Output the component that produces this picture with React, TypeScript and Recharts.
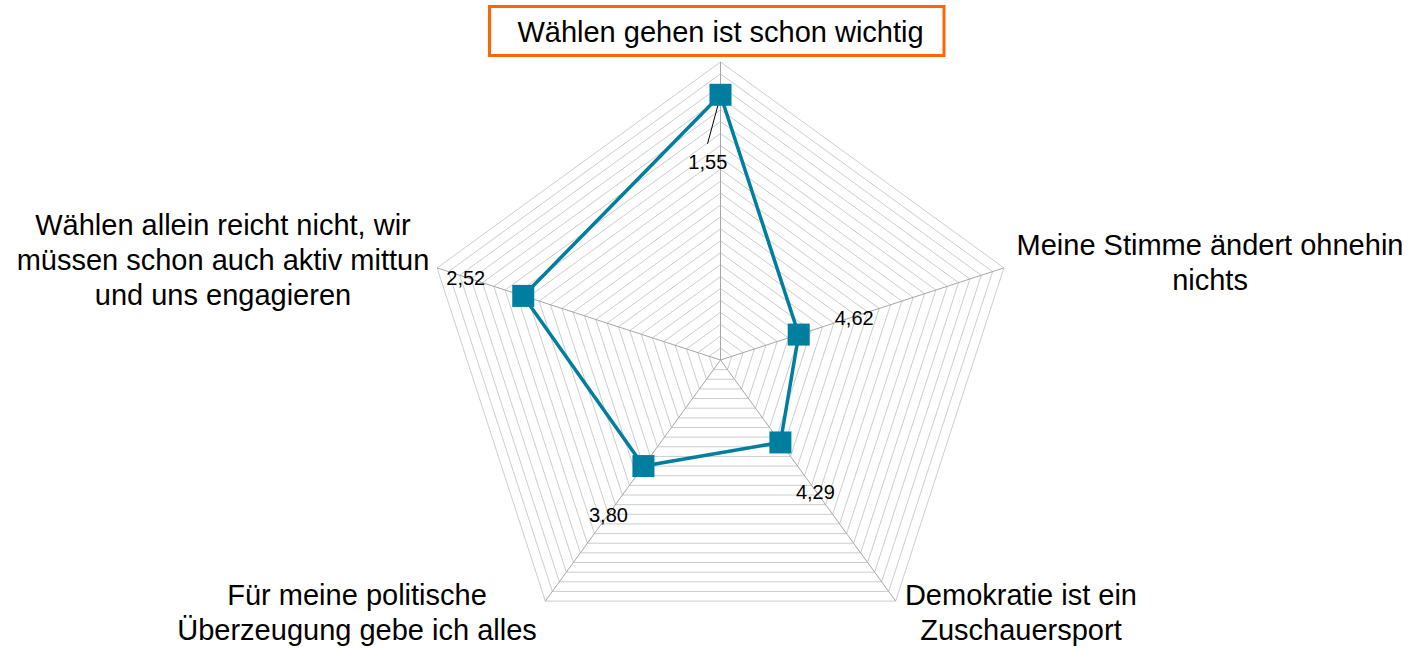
import React from 'react';
import { RadarChart, Radar, PolarGrid, PolarAngleAxis, PolarRadiusAxis } from 'recharts';

// ---- data ----
const categoryLines: string[][] = [
  ['Wählen gehen ist schon wichtig'],
  ['Meine Stimme ändert ohnehin', 'nichts'],
  ['Demokratie ist ein', 'Zuschauersport'],
  ['Für meine politische', 'Überzeugung gebe ich alles'],
  ['Wählen allein reicht nicht, wir', 'müssen schon auch aktiv mittun', 'und uns engagieren'],
];
const categories: string[] = categoryLines.map((l) => l.join(' '));
const values: number[] = [1.55, 4.62, 4.29, 3.8, 2.52];
const radiusTicks: number[] = [
  1, 1.2, 1.4, 1.6, 1.8, 2, 2.2, 2.4, 2.6, 2.8, 3, 3.2, 3.4, 3.6, 3.8, 4, 4.2, 4.4, 4.6, 4.8, 5,
  5.2, 5.4, 5.6, 5.8, 6,
];

const data = categories.map((name, i) => ({ name, value: values[i] }));

// ---- styles ----
const FONT = '"Liberation Sans", Arial, Helvetica, sans-serif';
const SERIES_COLOR = '#007EA0';
const axisLabelOffsets = [
  { dx: 0, dy: -12 },
  { dx: 198.5, dy: -10.4 },
  { dx: 120.6, dy: -2.6 },
  { dx: -183.6, dy: -2.6 },
  { dx: -206.5, dy: -30.4 },
];
const dataLabelOffsets = [
  { dx: -12.7, dy: 74 },
  { dx: 55.5, dy: -9.3 },
  { dx: 35, dy: 56.3 },
  { dx: -35, dy: 56.3 },
  { dx: -57.5, dy: -11 },
];

const fmt = (v: number) => v.toFixed(2).replace('.', ',');

const AngleTick = (props: any) => {
  const { x, y, payload } = props;
  const idx = categories.indexOf(payload.value);
  if (idx < 0) return null;
  const off = axisLabelOffsets[idx];
  const lines = categoryLines[idx];
  const tx = x + off.dx;
  const ty = y + off.dy;
  return (
    <g>
      {idx === 0 && (
        <rect
          x={x - 231}
          y={y - 47.5}
          width={454.5}
          height={49}
          fill="#ffffff"
          stroke="#FF6600"
          strokeWidth={3}
        />
      )}
      <text
        x={tx}
        y={ty}
        textAnchor="middle"
        fontFamily={FONT}
        fontSize={29}
        fill="#000000"
      >
        {lines.map((line, i) => (
          <tspan key={i} x={tx} dy={i === 0 ? 0 : 35}>
            {line}
          </tspan>
        ))}
      </text>
    </g>
  );
};

const SquareDot = (props: any) => {
  const { cx, cy, index } = props;
  const off = dataLabelOffsets[index];
  const size = 22;
  return (
    <g key={`dot-${index}`}>
      {index === 0 && (
        <line x1={cx} y1={cy + 1} x2={cx - 13} y2={cy + 49} stroke="#000000" strokeWidth={1} />
      )}
      <rect x={cx - size / 2} y={cy - size / 2} width={size} height={size} fill={SERIES_COLOR} stroke="none" />
      <text
        x={cx + off.dx}
        y={cy + off.dy}
        textAnchor="middle"
        fontFamily={FONT}
        fontSize={20}
        fill="#000000"
      >
        {fmt(values[index])}
      </text>
    </g>
  );
};

export default function App() {
  return (
    <div style={{ position: 'absolute', top: 0, left: 0, width: 1412, height: 650, background: '#ffffff' }}>
      <RadarChart
        width={1412}
        height={650}
        data={data}
        cx={720.5}
        cy={360}
        outerRadius={298}
        margin={{ top: 0, right: 0, bottom: 0, left: 0 }}
      >
        <PolarGrid gridType="polygon" radialLines={false} stroke="#cccccc" strokeWidth={1} />
        <PolarGrid gridType="polygon" polarRadius={[]} stroke="#a6a6a6" strokeWidth={1} />
        <PolarRadiusAxis
          domain={[1, 6]}
          ticks={radiusTicks}
          reversed
          tick={false}
          axisLine={false}
          tickLine={false}
        />
        <PolarAngleAxis
          dataKey="name"
          tick={<AngleTick />}
          tickLine={false}
          axisLine={false}
          tickSize={8}
        />
        <Radar
          dataKey="value"
          stroke={SERIES_COLOR}
          strokeWidth={3.5}
          fill="none"
          fillOpacity={0}
          dot={SquareDot}
          isAnimationActive={false}
        />
      </RadarChart>
    </div>
  );
}
